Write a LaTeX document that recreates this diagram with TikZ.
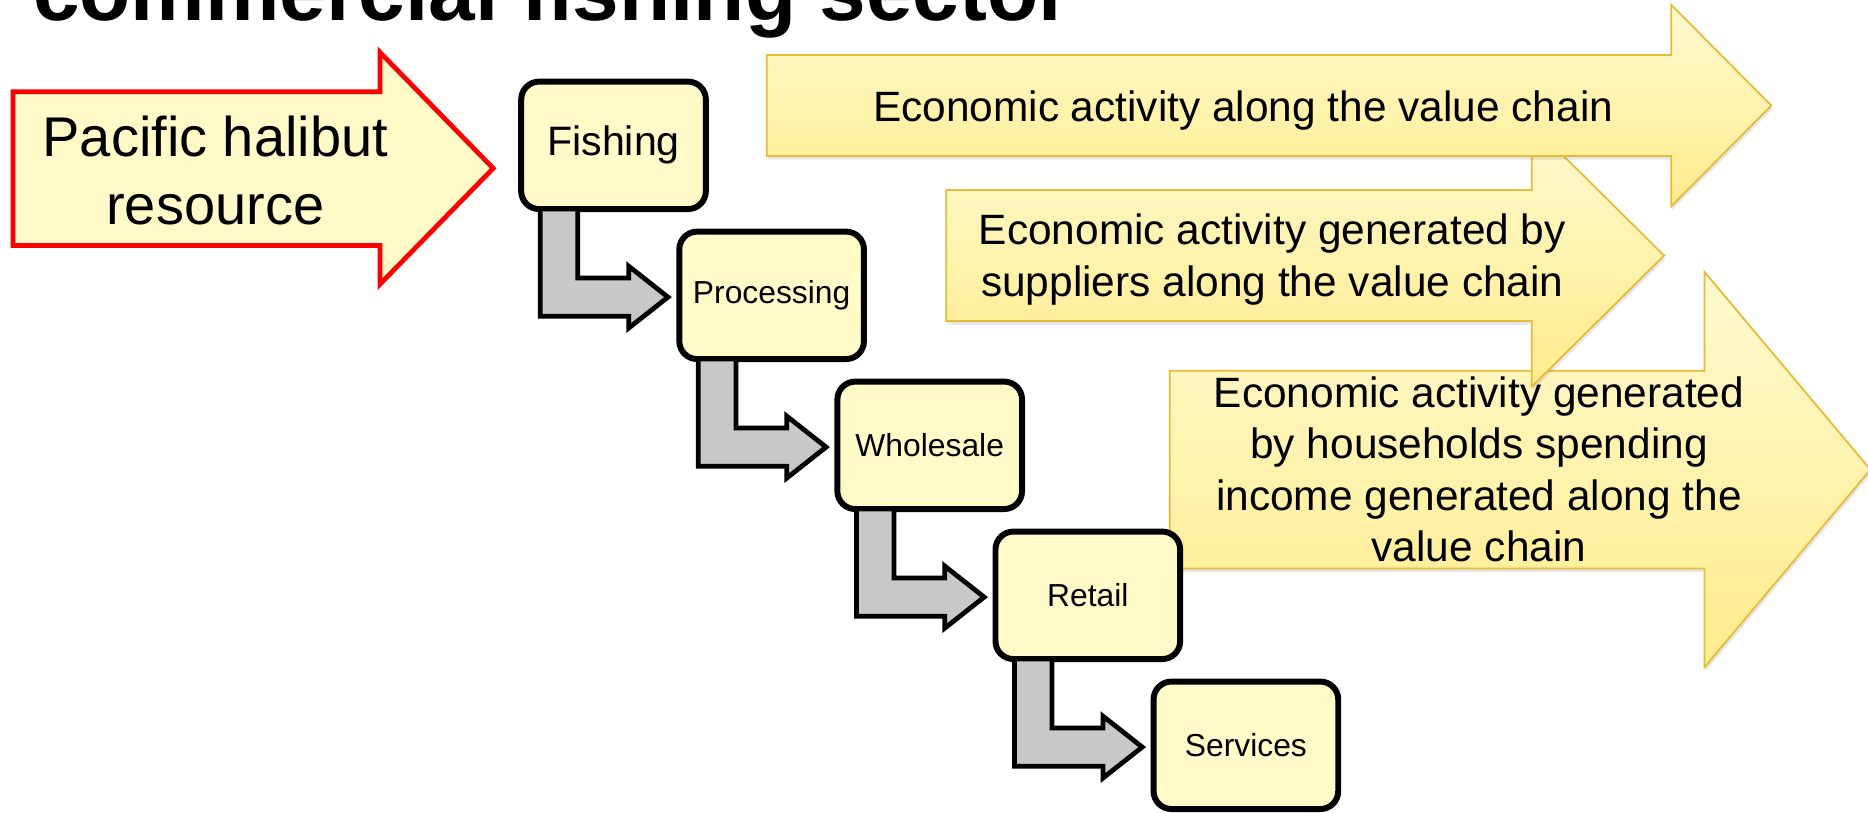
\documentclass[tikz,border=0pt]{standalone}
\usepackage{fontspec}
\setmainfont{Liberation Sans}
\usetikzlibrary{shadows}
\definecolor{boxfill}{RGB}{255,250,200}
\definecolor{flowtop}{RGB}{255,249,208}
\definecolor{flowbot}{RGB}{255,236,140}
\definecolor{flowedge}{RGB}{228,188,56}
\definecolor{bendgray}{RGB}{200,200,200}
\begin{document}
\begin{tikzpicture}[x=1pt, y=-1pt,
		stage/.style={draw, line width=5pt, rounded corners=15pt, fill=boxfill, minimum width=155pt, minimum height=107pt, inner sep=0pt},
		elbow/.style={draw, line width=4pt, fill=bendgray},
		flow/.style={draw=flowedge, line width=1.5pt, top color=flowtop, bottom color=flowbot, drop shadow={shadow xshift=1pt, shadow yshift=-3pt, opacity=.2}},
		flowtext/.style={align=center, inner sep=0pt, font=\fontsize{35.6}{43}\selectfont}]
	\useasboundingbox (0,0) rectangle (1568,682);
	\clip (0,0) rectangle (1568,682);
	\node[anchor=base west, inner sep=0pt, font=\fontsize{70.3}{84}\selectfont\bfseries] (title) at (27.5,16.8) {commercial fishing sector};
	% resource arrow
	\draw[draw=red, line width=4pt, fill=boxfill] (11,77) -- (319,77) -- (319,44) -- (414,141.3) -- (319,238.5) -- (319,206) -- (11,206) -- cycle;
	\node[align=center, inner sep=0pt, font=\fontsize{47}{57}\selectfont] (resource) at (180.7,143) {Pacific halibut\\resource};
	% the three wide arrows, back to front
	\foreach \l/\t/\b/\h/\w/\p in {981.8/311.2/477.2/1430.7/166/1570, 794.2/159.5/269.5/1285.8/110/1396.8, 643.6/46.2/131/1402.8/84.6/1486.8}
		\draw[flow] (\l,\t) -- (\h,\t) -- (\h,{(\t+\b)/2-\w}) -- (\p,{(\t+\b)/2}) -- (\h,{(\t+\b)/2+\w}) -- (\h,\b) -- (\l,\b) -- cycle;
	\node[flowtext, anchor=base] (chain) at (1043.5,102) {Economic activity along the value chain};
	\node[flowtext] (suppliers) at (1068,217.9) {Economic activity generated by\\suppliers along the value chain};
	\node[flowtext] (households) at (1241.5,394) {Economic activity generated\\by households spending\\income generated along the\\value chain};
	% value chain steps
	\foreach \name/\txt/\fs [count=\i from 0] in {fishing/Fishing/34.5, processing/Processing/26.7, wholesale/Wholesale/26.7, retail/Retail/26.7, services/Services/26.7}
		\node[stage, font=\fontsize{\fs}{40}\selectfont] (\name) at ({515+132.7*\i},{122+125.9*\i}) {\txt};
	\foreach \a/\b in {fishing/processing, processing/wholesale, wholesale/retail, retail/services}
		\draw[elbow] ([shift={(18.5,-2.5)}]\a.south west) -- ([shift={(50,-2.5)}]\a.south west) |- ([shift={(-40,-14.5)}]\b.west) -- ([shift={(-40,-24.5)}]\b.west) -- ([shift={(-7,1.5)}]\b.west) -- ([shift={(-40,27.5)}]\b.west) -- ([shift={(-40,17.5)}]\b.west) -| ([shift={(18.5,-2.5)}]\a.south west) -- cycle;
\end{tikzpicture}
\end{document}
